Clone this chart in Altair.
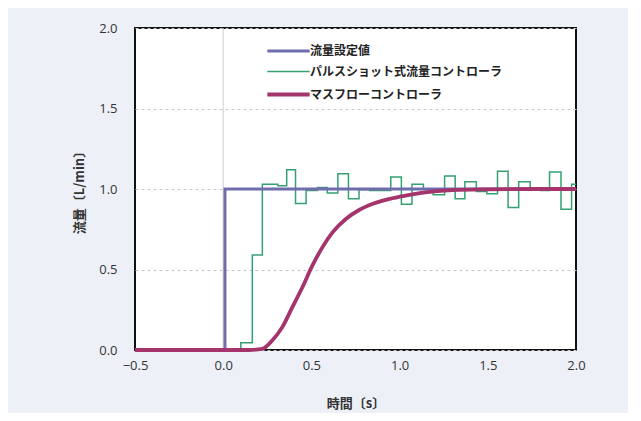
import altair as alt
import pandas as pd

series_names = ["流量設定値", "パルスショット式流量コントローラ", "マスフローコントローラ"]
series_colors = ["#716cae", "#35a070", "#a5346c"]
series_widths = [3, 1.5, 3.8]

# 流量設定値 (step-after)
set_t = [-0.5, 0.01, 2.0]
set_v = [0.0, 1.0, 1.0]

# パルスショット式流量コントローラ (step-after)
pulse_t = [-0.5, 0.10, 0.165, 0.222, 0.31, 0.36, 0.41, 0.47, 0.535, 0.59, 0.65, 0.71,
           0.77, 0.83, 0.95, 1.01, 1.07, 1.135, 1.19, 1.255, 1.315, 1.37, 1.435,
           1.495, 1.555, 1.615, 1.675, 1.74, 1.80, 1.85, 1.915, 1.975, 2.0]
pulse_v = [0.0, 0.045, 0.59, 1.03, 1.02, 1.12, 0.91, 0.99, 1.01, 0.975, 1.095, 0.94,
           0.995, 0.99, 1.075, 0.905, 1.03, 1.0, 0.965, 1.08, 0.94, 1.045, 0.985,
           0.97, 1.11, 0.885, 1.045, 0.995, 0.99, 1.105, 0.875, 1.03, 1.03]

# マスフローコントローラ
mfc_t = [-0.5, 0.145, 0.221, 0.278, 0.335, 0.392, 0.449, 0.506, 0.563, 0.621,
         0.697, 0.773, 0.849, 0.944, 1.039, 1.115, 1.2, 1.3, 1.5, 1.75, 2.0]
mfc_v = [0.0, 0.0, 0.007, 0.059, 0.142, 0.266, 0.39, 0.525, 0.639, 0.732,
         0.815, 0.871, 0.908, 0.939, 0.96, 0.974, 0.985, 0.993, 0.998, 1.0, 1.0]

x_ticks = [-0.5, 0.0, 0.5, 1.0, 1.5, 2.0]
y_ticks = [0.0, 0.5, 1.0, 1.5, 2.0]

df_set = pd.DataFrame({"t": set_t, "v": set_v, "series": series_names[0]})
df_pulse = pd.DataFrame({"t": pulse_t, "v": pulse_v, "series": series_names[1]})
df_mfc = pd.DataFrame({"t": mfc_t, "v": mfc_v, "series": series_names[2]})

xenc = alt.X("t:Q", scale=alt.Scale(domain=[-0.5, 2.0], nice=False),
             axis=alt.Axis(values=x_ticks, format=".1f", title="時間〔s〕",
                           grid=False, ticks=False, domain=False, labelFlush=False,
                           labelPadding=9, titlePadding=25))
yenc = alt.Y("v:Q", scale=alt.Scale(domain=[0, 2.0], nice=False),
             axis=alt.Axis(values=y_ticks, format=".1f", title="流量〔L/min〕",
                           grid=True, gridDash=[3, 3], gridColor="#c8c8c8",
                           ticks=False, domain=False, labelFlush=False,
                           labelPadding=18, titlePadding=12))

legend_kw = dict(title=None, orient="none", legendX=146, legendY=16,
                 symbolType="M-4,0H4", symbolSize=112, symbolFillColor="transparent",
                 labelFont="Noto Sans CJK JP", labelFontSize=12, labelLimit=400,
                 labelFontWeight="bold", labelColor="#222222",
                 rowPadding=8, labelOffset=14)

color = alt.Color("series:N",
                  scale=alt.Scale(domain=series_names, range=series_colors),
                  legend=alt.Legend(**legend_kw))
swidth = alt.StrokeWidth("series:N",
                         scale=alt.Scale(type="ordinal", domain=series_names, range=series_widths),
                         legend=alt.Legend(**legend_kw))

zero_rule = alt.Chart(pd.DataFrame({"t": [0.0]})).mark_rule(
    color="#cfcfcf", strokeWidth=1).encode(x=alt.X("t:Q"))

pulse = alt.Chart(df_pulse).mark_line(interpolate="step-after").encode(
    x=xenc, y=yenc, color=color, strokeWidth=swidth)
setp = alt.Chart(df_set).mark_line(interpolate="step-after").encode(
    x=xenc, y=yenc, color=color, strokeWidth=swidth)
mfc = alt.Chart(df_mfc).mark_line(interpolate="monotone").encode(
    x=xenc, y=yenc, color=color, strokeWidth=swidth)

chart = alt.layer(zero_rule, pulse, setp, mfc).properties(
    width=441, height=322,
    autosize=alt.AutoSizeParams(type="none"),
    padding={"left": 127, "top": 20, "right": 52, "bottom": 63},
    background="#edf1f7",
).configure_view(
    fill="white", stroke="#111111", strokeWidth=2
).configure_axis(
    labelFont="Open Sans", labelFontSize=13, labelColor="#333333",
    titleFont="Noto Sans CJK JP", titleFontSize=13, titleFontWeight="bold",
    titleColor="#333333"
)

chart.save("out.html", embed_options={"renderer": "svg", "actions": False})
